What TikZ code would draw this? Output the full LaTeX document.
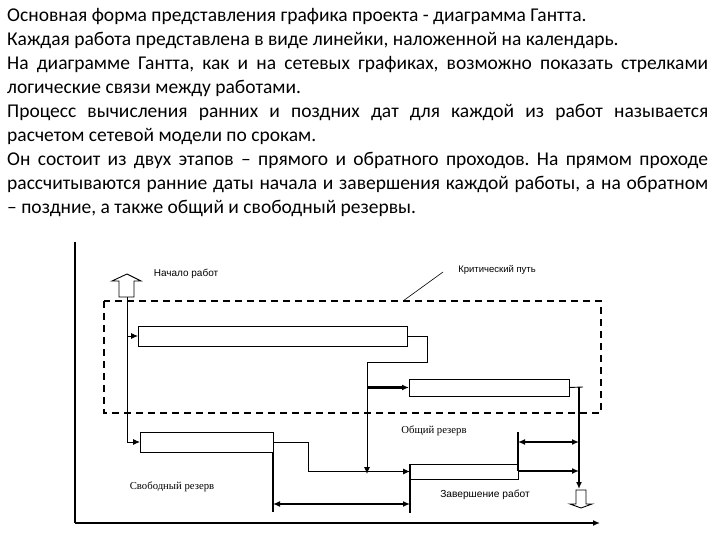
\documentclass[tikz,border=0pt]{standalone}
\usepackage{fontspec}
\setmainfont{Carlito}
\newfontfamily\lsans{Liberation Sans}
\newfontfamily\lserif{Liberation Serif}
\usetikzlibrary{arrows.meta}
\tikzset{
  txt/.style={anchor=base west, inner sep=0pt, font=\fontsize{19.5}{22}\selectfont\frenchspacing},
  box/.style={draw, line width=0.9pt, inner sep=0pt, outer sep=0pt, anchor=north west},
  thin/.style={line width=0.9pt},
  thk/.style={line width=2.5pt},
  tip/.style={-{Latex[length=7pt,width=6pt]}},
  dtip/.style={{Latex[length=7pt,width=6pt]}-{Latex[length=7pt,width=6pt]}},
  crit/.style={line width=2pt, dash pattern=on 7pt off 5pt},
  lbls/.style={inner sep=0pt, font=\lsans\fontsize{10}{11}\selectfont},
  lblr/.style={inner sep=0pt, font=\lserif\fontsize{10.7}{12}\selectfont},
  hollow/.style={draw, line width=0.9pt, fill=white}
}
\begin{document}
\frenchspacing
\begin{tikzpicture}[x=1pt,y=-1pt]
\useasboundingbox (0,0) rectangle (720,540);
% text
\node[txt] (t1) at (7,22) {Основная форма представления графика проекта - диаграмма Гантта.};
\node[txt] (t2) at (7,46) {Каждая работа представлена в виде линейки, наложенной на календарь.};
\node[txt] (t3) at (7,70) {\makebox[701pt][s]{На диаграмме Гантта, как и на сетевых графиках, возможно показать стрелками}};
\node[txt] (t4) at (7,94) {логические связи между работами.};
\node[txt] (t5) at (7,118) {\makebox[701pt][s]{Процесс вычисления ранних и поздних дат для каждой из работ называется}};
\node[txt] (t6) at (7,142) {расчетом сетевой модели по срокам.};
\node[txt] (t7) at (7,166) {\makebox[701pt][s]{Он состоит из двух этапов – прямого и обратного проходов. На прямом проходе}};
\node[txt] (t8) at (7,190) {\makebox[701pt][s]{рассчитываются ранние даты начала и завершения каждой работы, а на обратном}};
\node[txt] (t9) at (7,214) {– поздние, а также общий и свободный резервы.};
% axes
\coordinate (o) at (75,523);
\coordinate (ytop) at (75,242);
\coordinate (xend) at (600,523);
\draw[thk] (ytop) -- (o);
\draw[line width=1.8pt, tip] (o) -- (xend);
% critical path frame
\draw[crit] (104,301) rectangle (601,413);
% boxes
\node[box, minimum width=269pt, minimum height=20pt] (b1) at (138,326) {};
\node[box, minimum width=160pt, minimum height=17pt] (b3) at (409,379) {};
\node[box, minimum width=133pt, minimum height=20pt] (b2) at (140,432) {};
\node[box, minimum width=108pt, minimum height=15pt] (b4) at (410,464) {};
% start hollow arrow
\draw[hollow] (119,297) -- (119,281) -- (112,281) -- (127,274) -- (141,281) -- (134,281) -- (134,297) -- cycle;
\coordinate (st) at (127,297);
\draw[thin, tip] (st) |- (b2.west);
\draw[thin, tip] (st |- b1.west) -- (b1.west);
% b1 -> b3 and b4
\coordinate (c1) at (427,336);
\coordinate (c2) at (427,362);
\coordinate (c3) at (367,362);
\coordinate (c4) at (367,474);
\draw[thin] (b1.east) -- (c1) -- (c2) -- (c3);
\draw[thin, tip] (c3) -- (c4);
\draw[thk, tip] (c3 |- b3.west) -- (b3.west);
% b2 -> b4
\coordinate (d1) at (308,442);
\draw[thin, tip] (b2.east) -- (d1) |- (b4.west);
% free float
\coordinate (f1) at (273,512);
\coordinate (f2) at (410,513);
\draw[thk] (b2.south east) -- (f1);
\draw[thk] (b4.north west) -- (f2);
\draw[thk, dtip] (273,504) -- (410,504);
% end hollow arrow
\draw[hollow] (576,490) -- (586,490) -- (586,504) -- (592,504) -- (581,508) -- (570,504) -- (576,504) -- cycle;
\coordinate (en) at (581,490);
% b3 -> end
\coordinate (e1) at (583,387);
\draw[thin] (b3.east) -- (e1);
\draw[thk, tip] (579,387) -- (579,489);
% total float
\coordinate (g1) at (518,432);
\coordinate (g2) at (518,471);
\draw[thk] (g1) -- (g2);
\draw[thk, dtip] (518,442) -- (579,442);
\draw[thk, tip] (g2) -- (579,471);
% labels
\node[lbls] (l1) at (186,274) {Начало работ};
\node[lbls, font=\lsans\fontsize{9.5}{11}\selectfont] (l2) at (497,270) {Критический путь};
\coordinate (k1) at (403,301);
\draw[line width=0.6pt] (443,272) -- (k1);
\node[lblr] (l3) at (434,431) {Общий резерв};
\node[lblr] (l4) at (172,487) {Свободный резерв};
\node[lbls, font=\lsans\fontsize{10.2}{12}\selectfont] (l5) at (485,495) {Завершение работ};
\end{tikzpicture}
\end{document}
